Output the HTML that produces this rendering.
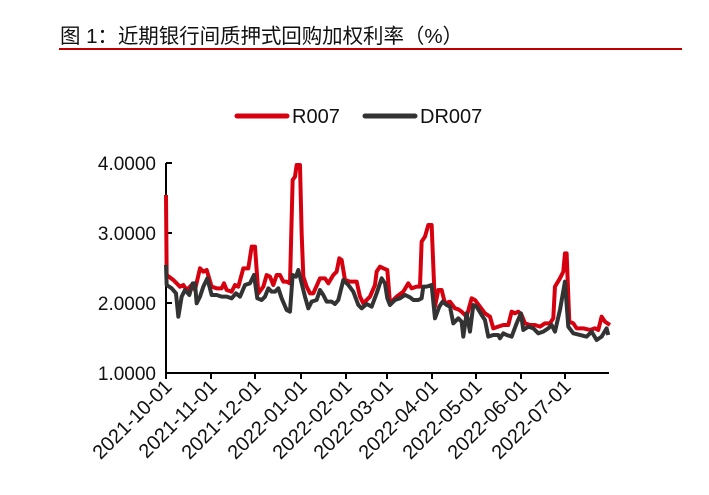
<!DOCTYPE html>
<html><head><meta charset="utf-8"><style>
body{margin:0;background:#fff;width:709px;height:490px;overflow:hidden}
svg{font-family:"Liberation Sans","Noto Sans CJK SC",sans-serif}
</style></head><body>
<svg width="709" height="490" viewBox="0 0 709 490">
<text x="60" y="43" font-size="20.5" fill="#111" textLength="403">图 1：近期银行间质押式回购加权利率（%）</text>
<rect x="59" y="48" width="623" height="2" fill="#c00000"/>
<line x1="237" y1="116" x2="287" y2="116" stroke="#d7000f" stroke-width="5" stroke-linecap="round"/>
<text x="292" y="123" font-size="20" fill="#111">R007</text>
<line x1="365" y1="116" x2="415" y2="116" stroke="#333" stroke-width="5" stroke-linecap="round"/>
<text x="420" y="123" font-size="20" fill="#111">DR007</text>
<g font-size="19" fill="#111" text-anchor="end">
<text x="156" y="170">4.0000</text><text x="156" y="240">3.0000</text>
<text x="156" y="310">2.0000</text><text x="156" y="380">1.0000</text>
</g>
<g stroke="#000" stroke-width="2">
<line x1="166" y1="163" x2="166" y2="373"/><line x1="166" y1="373" x2="609" y2="373"/>
<line x1="166" y1="163" x2="172" y2="163"/><line x1="166" y1="233" x2="172" y2="233"/><line x1="166" y1="303" x2="172" y2="303"/>
<line x1="166" y1="373" x2="166" y2="379"/><line x1="211" y1="373" x2="211" y2="379"/><line x1="255" y1="373" x2="255" y2="379"/><line x1="301" y1="373" x2="301" y2="379"/><line x1="346" y1="373" x2="346" y2="379"/><line x1="387" y1="373" x2="387" y2="379"/><line x1="432" y1="373" x2="432" y2="379"/><line x1="476" y1="373" x2="476" y2="379"/><line x1="521" y1="373" x2="521" y2="379"/><line x1="565" y1="373" x2="565" y2="379"/>
</g>
<g font-size="20" fill="#111" text-anchor="end">
<text transform="translate(173,388) rotate(-45)">2021-10-01</text>
<text transform="translate(218,388) rotate(-45)">2021-11-01</text>
<text transform="translate(262,388) rotate(-45)">2021-12-01</text>
<text transform="translate(308,388) rotate(-45)">2022-01-01</text>
<text transform="translate(353,388) rotate(-45)">2022-02-01</text>
<text transform="translate(394,388) rotate(-45)">2022-03-01</text>
<text transform="translate(439,388) rotate(-45)">2022-04-01</text>
<text transform="translate(483,388) rotate(-45)">2022-05-01</text>
<text transform="translate(528,388) rotate(-45)">2022-06-01</text>
<text transform="translate(572,388) rotate(-45)">2022-07-01</text>
</g>
<g transform="translate(150,150) scale(0.3333)" fill="none" stroke-width="12" stroke-linejoin="round">
<polyline stroke="#d7000f" points="48,135 50,375 70,390 90,410 100,405 110,420 125,405 135,420 150,355 160,365 170,360 185,410 200,415 215,415 222,400 230,420 245,425 255,405 265,410 280,355 295,355 305,290 315,290 325,430 340,410 350,375 360,380 370,405 380,375 390,375 400,395 410,395 420,400 428,90 435,80 440,45 450,45 455,250 460,380 470,410 480,430 490,430 510,385 525,385 535,400 550,375 560,365 568,325 575,330 585,390 600,395 620,395 630,440 640,460 660,440 675,405 680,365 690,350 700,355 712,360 720,460 740,440 760,425 775,400 785,415 800,410 810,410 815,275 825,260 835,225 845,225 855,470 865,420 875,420 885,460 900,455 915,475 925,478 935,485 950,500 965,445 975,450 990,470 1005,490 1020,500 1030,535 1045,530 1060,525 1075,525 1085,485 1095,490 1105,485 1115,495 1125,520 1140,525 1155,525 1170,530 1185,520 1200,520 1210,505 1215,410 1230,385 1240,365 1245,310 1250,310 1258,515 1270,520 1280,535 1300,535 1320,540 1335,535 1345,540 1355,500 1365,515 1380,525"/>
<polyline stroke="#333" points="48,345 50,405 65,415 78,430 85,500 95,440 105,420 118,435 128,400 135,400 140,460 150,440 160,410 172,385 185,435 200,435 215,440 230,440 245,445 258,430 270,440 285,405 300,400 312,375 322,445 335,450 345,440 355,415 365,425 375,425 385,415 395,445 410,480 420,485 428,375 438,380 445,360 455,400 465,440 475,475 485,455 500,450 510,420 520,435 530,455 545,455 555,462 565,450 580,390 595,405 610,425 625,465 635,475 650,462 665,470 680,430 695,385 705,400 712,445 720,465 735,450 750,445 765,435 780,442 790,450 805,450 815,445 820,410 830,410 845,405 855,505 868,470 878,455 890,465 900,470 910,520 925,505 935,515 940,560 950,490 960,545 970,465 980,470 995,495 1005,510 1015,560 1030,555 1045,555 1050,565 1060,550 1070,555 1085,560 1100,520 1113,490 1120,540 1135,530 1150,535 1165,550 1180,545 1195,535 1205,525 1215,545 1230,480 1245,395 1255,530 1270,550 1290,555 1310,560 1325,545 1340,570 1355,560 1370,535 1375,555"/>
</g>
</svg>
</body></html>
